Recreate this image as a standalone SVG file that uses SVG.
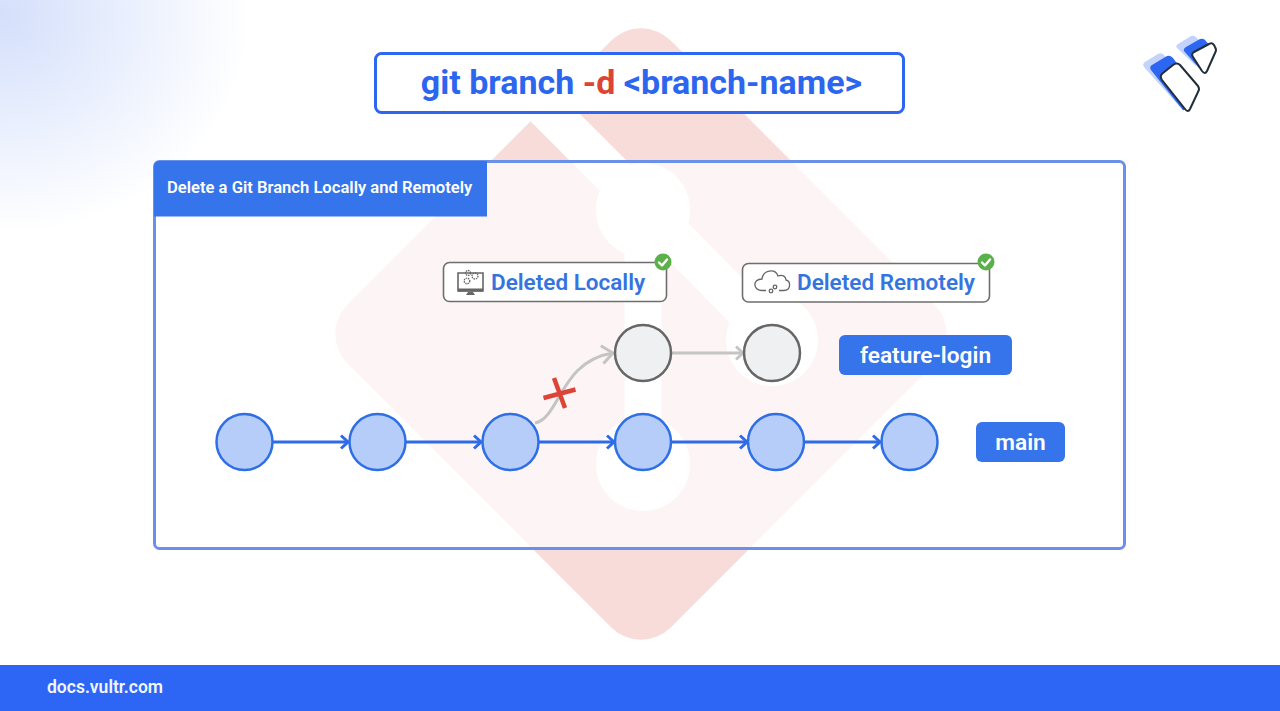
<svg xmlns="http://www.w3.org/2000/svg" width="1280" height="711" viewBox="0 0 1280 711">
<style>
text{font-family:Roboto,"Liberation Sans",sans-serif}
.card-bg{fill:#fff;fill-opacity:.72;stroke:#6a90ea;stroke-width:3}
.commit{fill:#b5cdf8;stroke:#2f6fe6;stroke-width:2.5}
.gone{fill:#eff0f1;stroke:#666;stroke-width:2.5}
.link{fill:none;stroke:#2f6be8;stroke-width:3;marker-end:url(#hb)}
.glink{fill:none;stroke:#c4c4c4;stroke-width:3;marker-end:url(#hg)}
.tag{fill:#3574ea}
.tagt{font-size:22.700px;font-weight:600;fill:#fff;text-anchor:middle}
.status{fill:#fff;stroke:#6e6e6e;stroke-width:1.6}
.statust{font-size:22.500px;font-weight:600;fill:#3574e0}
.ok{fill:#5cb04a}
.tick{fill:none;stroke:#fff;stroke-width:2.4;stroke-linecap:round;stroke-linejoin:round}
.ic{fill:none;stroke:#666;stroke-width:1.3}
.mk{fill:#fff;stroke:#222d3a;stroke-width:2;stroke-linejoin:round}
</style>
<defs>
<radialGradient id="glow" gradientUnits="userSpaceOnUse" cx="0" cy="0" r="250" gradientTransform="translate(0 15) scale(1 .88)">
<stop offset="0" stop-color="#d4dffb"/><stop offset=".5" stop-color="#e9effd"/><stop offset="1" stop-color="#fff"/>
</radialGradient>
<marker id="hb" markerUnits="userSpaceOnUse" markerWidth="12" markerHeight="18" refX="10" refY="9" orient="auto"><path d="M3 2.500L10 9L3 15.500" fill="none" stroke="#2f6be8" stroke-width="3"/></marker>
<marker id="hg" markerUnits="userSpaceOnUse" markerWidth="24" markerHeight="24" refX="20" refY="12" orient="auto"><path d="M9 3L20 12L9 21" fill="none" stroke="#c4c4c4" stroke-width="3"/></marker>
<marker id="hs" markerUnits="userSpaceOnUse" markerWidth="12" markerHeight="18" refX="10" refY="9" orient="auto"><path d="M3 2.500L10 9L3 15.500" fill="none" stroke="#c4c4c4" stroke-width="3"/></marker>
</defs>
<rect width="1280" height="711" fill="#fff"/>
<rect width="300" height="300" fill="url(#glow)"/>
<g id="watermark">
<rect x="412.500" y="105.500" width="457" height="457" rx="42" fill="#f8dcda" transform="rotate(45 641 334)"/>
<path d="M520 82.500L643 205.500L772 337" fill="none" stroke="#fff" stroke-width="40"/>
<path d="M643 205V464" fill="none" stroke="#fff" stroke-width="37"/>
<circle cx="643" cy="210" r="47" fill="#fff"/><circle cx="643" cy="464" r="47" fill="#fff"/><circle cx="772" cy="340" r="46" fill="#fff"/>
</g>
<g id="title">
<rect x="375.500" y="53.500" width="528" height="59" rx="6" fill="#fff" stroke="#2d66f0" stroke-width="3"/>
<text x="641.500" y="94" font-size="34" font-weight="700" fill="#2d66ee" text-anchor="middle">git branch <tspan fill="#db4437">-d</tspan> &lt;branch-name&gt;</text>
</g>
<g id="vultr-logo">
<path d="M1144 67Q1142 64 1145 62L1158 54Q1161 52 1164 55L1190 84Q1192 87 1190 90L1180 107Z" fill="#c3d3f9"/>
<path d="M1151 70Q1149 67 1152 65L1167 56Q1170 55 1173 58L1195 88Q1197 91 1195 94L1184 110Q1183 111 1182 109Z" fill="#2d66f0"/>
<path class="mk" d="M1162 80Q1159 76 1163 73L1173 65Q1177 62 1180 65L1198 86Q1200 89 1198 92L1190 109Q1188 113 1185 109Z"/>
<path d="M1177 48Q1175 46 1178 44L1191 36Q1194 35 1196 37L1205 47L1196 66Z" fill="#c3d3f9"/>
<path d="M1184 51Q1183 49 1186 47L1200 39Q1203 38 1205 40L1211 47L1199 68Z" fill="#2d66f0"/>
<path class="mk" d="M1193 57Q1191 54 1194 52L1209 44Q1212 42 1214 45L1215 47Q1217 50 1215 53L1207 71Q1205 75 1202 71Z"/>
</g>
<g id="card">
<rect class="card-bg" x="154.500" y="161.500" width="970" height="387" rx="5"/>
<path d="M154 166a5 5 0 0 1 5-5H487V216.500H154Z" class="tag"/>
<text x="167" y="193" font-size="16.600" font-weight="600" fill="#fff">Delete a Git Branch Locally and Remotely</text>
</g>
<g id="connectors">
<path class="link" d="M273 442H348"/><path class="link" d="M406 442H481"/><path class="link" d="M539 442H614"/><path class="link" d="M672 442H747"/><path class="link" d="M805 442H880"/>
<path class="glink" d="M535 423C560 418 560 361 613 353"/>
<path d="M672 353H743" fill="none" stroke="#c4c4c4" stroke-width="3" marker-end="url(#hs)"/>
<path d="M543.500 398L575.500 389.500M554 378L565 408" fill="none" stroke="#db4437" stroke-width="4.500"/>
</g>
<g id="c1"><circle class="commit" cx="244.500" cy="442" r="28"/></g>
<g id="c2"><circle class="commit" cx="377.500" cy="442" r="28"/></g>
<g id="c3"><circle class="commit" cx="510.500" cy="442" r="28"/></g>
<g id="c4"><circle class="commit" cx="643" cy="442" r="28"/></g>
<g id="c5"><circle class="commit" cx="776" cy="442" r="28"/></g>
<g id="c6"><circle class="commit" cx="909.500" cy="442" r="28"/></g>
<g id="f1"><circle class="gone" cx="643" cy="353" r="28"/></g>
<g id="f2"><circle class="gone" cx="772" cy="353" r="28"/></g>
<g id="tag-feature"><rect class="tag" x="839" y="335" width="173" height="40" rx="6"/><text class="tagt" x="925.500" y="363">feature-login</text></g>
<g id="tag-main"><rect class="tag" x="976" y="422" width="89" height="40" rx="6"/><text class="tagt" x="1020.500" y="450">main</text></g>
<g id="deleted-locally">
<rect class="status" x="443.500" y="262.500" width="223" height="39" rx="6"/>
<path d="M458 273H483V291H458Z" class="ic" style="stroke-width:1.600"/><path d="M458 288.500H483V291.500H458ZM468 292H473L475 295H466Z" fill="#666"/>
<circle class="ic" cx="467" cy="281" r="2.800" stroke-dasharray="1.500 .8"/><circle class="ic" cx="468" cy="273" r="2.500" stroke-dasharray="1.500 .8"/><circle class="ic" cx="475" cy="276" r="3" stroke-dasharray="1.500 .8"/>
<text class="statust" x="491" y="290">Deleted Locally</text>
<circle class="ok" cx="663" cy="262" r="8.500"/><path class="tick" d="M659 262.500L662 265.500L667 259.500"/>
</g>
<g id="deleted-remotely">
<rect class="status" x="742.500" y="263.500" width="247" height="38.500" rx="6"/>
<path class="ic" d="M766 290.500H762C753 290.500 752 279 762 279C763 270 775 268 778 276C783 274 786 277 786 280C791 281 791 290.500 784 290.500H779"/>
<circle class="ic" cx="771" cy="291" r="1.800"/><circle class="ic" cx="775" cy="287" r="1.800"/>
<text class="statust" x="797" y="290">Deleted Remotely</text>
<circle class="ok" cx="986" cy="262" r="8.500"/><path class="tick" d="M982 262.500L985 265.500L990 259.500"/>
</g>
<g id="footer">
<rect y="665" width="1280" height="46" fill="#2d66f5"/>
<text x="47" y="693" font-size="17.500" font-weight="600" fill="#f2f6ff">docs.vultr.com</text>
</g>
</svg>
